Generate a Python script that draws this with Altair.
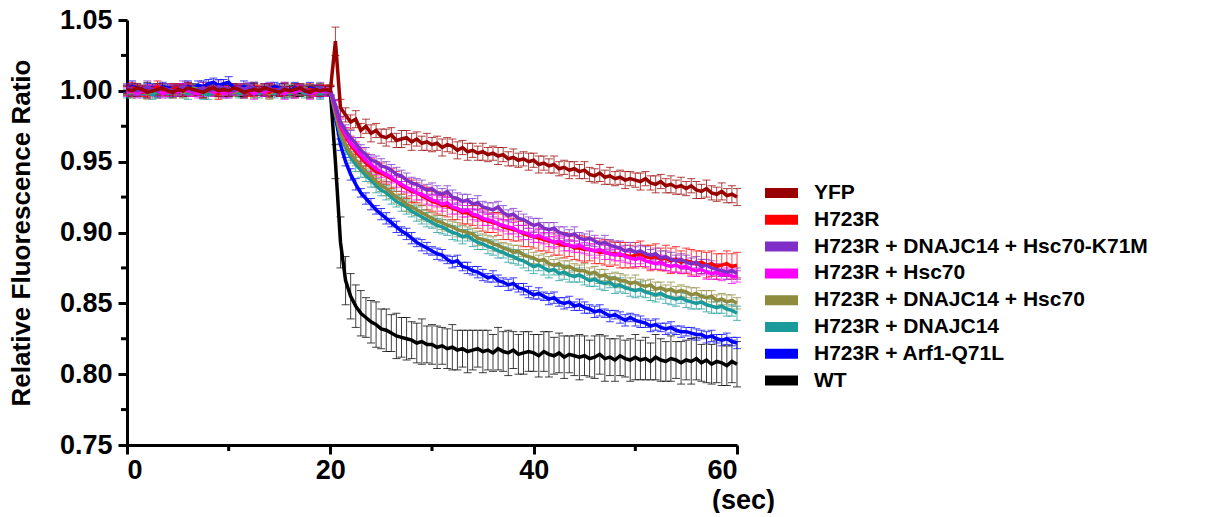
import altair as alt
import pandas as pd

# ---------------- data (values in thousandths of the ratio) ----------------
NAMES = ["YFP", "H723R", "H723R + DNAJC14 + Hsc70-K71M", "H723R + Hsc70",
         "H723R + DNAJC14 + Hsc70", "H723R + DNAJC14", "H723R + Arf1-Q71L", "WT"]
COLORS = ["#990000", "#FF0000", "#7E2FC8", "#FF00FF", "#8E8A3E", "#1A9A9A", "#0000FF", "#000000"]
DRAW_ORDER = ["WT", "H723R + Arf1-Q71L", "H723R + DNAJC14", "H723R + DNAJC14 + Hsc70",
              "H723R", "H723R + Hsc70", "H723R + DNAJC14 + Hsc70-K71M", "YFP"]

TIMES = [i / 2 for i in range(121)]          # sampling every 0.5 s, 0..60 s
X_TICKS = [0, 20, 40, 60]
X_MINOR = [10, 30, 50]
Y_TICKS = [0.75, 0.80, 0.85, 0.90, 0.95, 1.00, 1.05]
Y_MINOR = [0.775, 0.825, 0.875, 0.925, 0.975, 1.025]

PRE = {
    "YFP": [1001,1000,1002,1001,999,1000,1001,1002,1000,999,
            1001,1000,1002,1001,1000,999,1001,1002,1000,1001,
            1000,1002,1001,999,1000,1001,1000,1002,1001,1000,
            999,1001,1000,1001,1002,1000,999,1001,1000,1001],
    "H723R": [1000,1002,1001,999,1000,1001,1003,1000,999,1001,
              1002,1000,1001,999,1000,1002,1001,1000,998,1000,
              1001,1000,1002,1001,999,1000,1001,1000,999,1001,
              1000,1002,1000,999,1001,1000,1001,999,1000,1001],
    "H723R + DNAJC14 + Hsc70-K71M": [1002,1001,1000,1001,1003,1001,1000,1002,1001,1000,
                                     1001,1003,1002,1000,1001,1002,1000,1001,1003,1002,
                                     1001,1000,1002,1001,1003,1002,1000,1001,1002,1000,
                                     1001,1002,1000,1001,1002,1001,999,1001,1002,1000],
    "H723R + Hsc70": [999,1000,998,1000,999,1001,1000,998,999,1000,
                      999,1001,1000,999,998,1000,1001,999,1000,998,
                      999,1000,1001,999,1000,998,1000,999,1001,1000,
                      999,998,1000,999,1001,1000,998,999,1000,999],
    "H723R + DNAJC14 + Hsc70": [1000,999,1001,1000,998,1000,1001,999,1000,1001,
                                1000,999,1000,1002,1001,999,1000,1001,999,1000,
                                1001,999,1000,1001,1000,999,1001,1000,998,1000,
                                1001,1000,999,1001,1000,1002,1000,999,1001,1000],
    "H723R + DNAJC14": [998,999,1000,998,999,997,999,1000,998,999,
                        1000,999,998,1000,999,998,997,999,1000,998,
                        999,1000,998,999,1000,999,998,1000,999,998,
                        1000,999,998,999,1000,998,999,1000,998,999],
    "H723R + Arf1-Q71L": [1001,1003,1002,1000,1001,1002,1001,1003,1002,1001,
                          1002,1001,1003,1002,1004,1003,1005,1006,1004,1005,
                          1006,1002,1001,1003,1002,1001,1000,1002,1001,1003,
                          1002,1001,1000,1002,1001,1000,1002,1001,999,1000],
    "WT": [1000,1001,999,1000,1002,1000,999,1001,1000,1000,
           999,1001,1000,1002,1000,999,1001,1000,1001,999,
           1000,1001,999,1000,1001,1002,1000,999,1000,1001,
           1000,999,1001,1000,999,1001,1000,1000,1001,1000],
}

POST = {
    "YFP": [1000,1035,988,983,978,980,972,975,970,972,
            968,967,969,965,966,967,964,966,963,964,
            962,963,960,962,961,958,960,957,958,956,
            957,955,956,954,955,952,953,951,952,950,
            951,948,949,947,948,945,946,944,945,943,
            944,941,940,942,939,940,938,939,937,938,
            937,936,938,935,934,936,933,934,932,933,
            931,933,930,929,931,928,927,929,926,927,
            925],
    "H723R": [1000,988,975,968,962,957,953,949,946,943,
              942,940,938,936,933,931,929,928,926,924,
              922,921,919,919,917,916,914,914,912,911,
              909,908,907,906,904,903,902,901,899,898,
              897,896,895,894,893,892,891,891,889,889,
              888,888,887,886,886,885,885,884,884,883,
              884,885,883,882,883,881,882,880,881,879,
              880,879,878,879,877,878,876,877,878,876,
              877],
    "H723R + DNAJC14 + Hsc70-K71M": [1000,990,978,972,967,963,958,955,951,950,
                                     947,946,944,941,940,937,935,934,932,930,
                                     931,928,927,929,925,924,922,923,920,921,
                                     918,917,916,918,914,912,913,910,909,907,
                                     905,906,903,902,903,900,899,898,899,896,
                                     895,896,894,892,893,891,890,889,887,888,
                                     886,887,885,884,885,882,883,881,880,881,
                                     879,878,879,876,877,875,874,873,872,873,
                                     871],
    "H723R + Hsc70": [1000,989,976,969,963,959,955,951,948,945,
                      943,941,939,936,934,932,930,928,927,925,
                      923,922,920,921,918,917,915,916,913,912,
                      910,909,908,906,905,904,903,901,900,899,
                      897,898,896,895,893,894,892,891,890,891,
                      889,888,887,888,886,885,884,885,883,882,
                      881,882,880,879,878,879,877,876,877,875,
                      876,874,873,874,872,871,872,870,871,869,
                      869],
    "H723R + DNAJC14 + Hsc70": [1000,985,970,962,956,951,947,943,940,936,
                                933,931,928,925,923,920,918,916,914,912,
                                910,908,907,905,904,902,901,900,899,896,
                                895,894,892,891,889,888,886,887,884,883,
                                882,880,881,878,877,878,875,876,874,873,
                                873,871,872,869,870,867,868,866,866,864,
                                865,863,862,863,860,861,859,860,858,859,
                                858,856,857,855,854,855,852,853,851,852,
                                850],
    "H723R + DNAJC14": [1000,984,968,960,953,948,944,940,937,933,
                        930,928,925,922,920,918,915,913,911,909,
                        907,905,904,902,900,899,897,898,895,893,
                        892,890,889,887,886,884,883,881,880,878,
                        876,877,875,873,874,871,872,870,869,870,
                        868,866,867,865,864,865,862,863,861,860,
                        859,860,858,857,856,857,855,854,853,854,
                        852,851,850,851,849,848,847,848,846,845,
                        843],
    "H723R + Arf1-Q71L": [1000,982,962,950,941,934,928,924,920,916,
                          913,910,907,904,901,899,896,893,891,889,
                          887,885,884,881,879,880,876,875,873,872,
                          870,868,869,866,865,863,864,861,860,858,
                          856,857,855,853,854,851,850,851,848,849,
                          847,846,844,845,843,841,842,840,838,840,
                          838,837,836,834,835,833,832,833,831,830,
                          830,829,828,828,826,827,825,824,825,823,
                          822],
    "WT": [1000,950,893,866,855,848,843,840,837,835,
           832,831,829,827,826,825,824,822,823,821,
           821,819,820,818,819,817,818,816,817,818,
           816,817,815,818,816,815,817,814,815,816,
           815,813,816,814,813,815,812,814,813,812,
           813,811,812,814,811,812,810,813,811,810,
           812,810,811,809,812,810,809,811,810,808,
           810,809,811,808,810,807,809,808,806,809,
           807],
}

# error half-widths (thousandths)
ERR_PRE = [3,4,3,3,4,3,4,3,3,4, 3,4,4,3,3,4,3,3,4,3,
           4,3,3,4,3,4,3,3,4,3, 3,4,3,4,3,3,4,3,4,3]
ERR_POST = {
    "YFP": [3,10,6,5,5,6,5,5,6,5, 5,6,5,5,6,5,6,5,5,6, 5,5,6,5,5,6,5,6,5,5,
            6,5,5,6,5,5,6,5,5,6, 5,6,5,5,6,5,5,6,5,5, 6,5,5,6,5,6,5,5,6,5,
            5,6,5,5,6,5,5,6,5,6, 5,5,6,5,6,5,5,6,5,6, 6],
    "H723R": [4,5,6,6,6,7,6,7,6,7, 7,6,7,7,6,7,8,7,7,8, 7,8,7,8,8,7,8,8,7,8,
              8,8,7,8,9,8,8,7,9,8, 8,9,8,8,9,8,9,8,8,9, 9,8,9,8,9,9,8,9,9,8,
              9,9,8,9,9,8,9,9,9,8, 9,9,9,8,9,9,9,8,9,9, 9],
    "H723R + DNAJC14 + Hsc70-K71M": [3,4,4,4,5,4,4,5,4,4, 5,4,4,5,4,5,4,4,5,4, 4,5,4,4,5,4,5,4,4,5,
                                     4,4,5,4,5,4,4,5,4,4, 5,4,4,5,4,4,5,4,5,4, 4,5,4,4,5,4,4,5,4,5,
                                     4,4,5,4,4,5,4,5,4,4, 5,4,4,5,4,5,4,4,5,4, 4],
    "H723R + Hsc70": [3,4,4,5,4,4,5,4,5,4, 4,5,4,4,5,4,4,5,4,5, 4,4,5,4,5,4,4,5,4,4,
                      5,4,5,4,4,5,4,4,5,4, 4,5,4,5,4,4,5,4,4,5, 4,4,5,4,5,4,4,5,4,4,
                      5,4,4,5,4,5,4,4,5,4, 4,5,4,4,5,4,5,4,4,5, 4],
    "H723R + DNAJC14 + Hsc70": [3,4,4,4,5,4,4,4,5,4, 4,5,4,4,4,5,4,4,5,4, 4,4,5,4,4,5,4,4,4,5,
                                4,4,5,4,4,4,5,4,4,5, 4,4,4,5,4,4,5,4,4,4, 5,4,4,5,4,4,4,5,4,4,
                                5,4,4,4,5,4,4,5,4,4, 4,5,4,4,5,4,4,4,5,4, 4],
    "H723R + DNAJC14": [3,4,5,5,4,5,5,4,5,5, 4,5,5,4,5,5,4,5,5,5, 4,5,5,4,5,5,5,4,5,5,
                        4,5,5,5,4,5,5,4,5,5, 5,4,5,5,4,5,5,5,4,5, 5,4,5,5,5,4,5,5,4,5,
                        5,5,4,5,5,4,5,5,5,4, 5,5,4,5,5,5,4,5,5,4, 5],
    "H723R + Arf1-Q71L": [3,4,4,3,4,4,3,4,4,3, 4,4,3,4,3,4,4,3,4,4, 3,4,4,3,4,4,3,4,3,4,
                          4,3,4,4,3,4,4,3,4,4, 3,4,3,4,4,3,4,4,3,4, 4,3,4,4,3,4,3,4,4,3,
                          4,4,3,4,4,3,4,4,3,4, 3,4,4,3,4,4,3,4,4,3, 4],
    "WT": [4,12,18,17,16,15,16,14,15,16, 14,15,13,16,14,15,13,14,16,13, 14,15,13,14,16,14,13,15,14,13,
           15,14,13,15,14,16,13,14,15,14, 13,15,14,16,13,14,15,13,14,16, 14,13,15,14,16,13,15,14,13,15,
           16,14,15,13,16,15,14,16,13,15, 14,16,15,13,16,14,15,16,14,15, 16],
}

rows = []
for k, name in enumerate(DRAW_ORDER):
    vals = PRE[name] + POST[name]
    errs = ERR_PRE + ERR_POST[name]
    assert len(vals) == len(TIMES), (name, len(vals))
    assert len(errs) == len(TIMES), (name, "err", len(errs))
    for t, v, e in zip(TIMES, vals, errs):
        rows.append({"t": t, "v": v / 1000, "lo": (v - e) / 1000, "hi": (v + e) / 1000,
                     "series": name, "k": k})
df = pd.DataFrame(rows)

FONT = "Liberation Sans"
W, H = 610, 425

AX_X = alt.Axis(values=X_TICKS, format="d", title="(sec)", grid=False,
                labelFont=FONT, labelFontSize=27, labelFontWeight="bold", labelColor="black",
                labelPadding=3, tickSize=9, tickWidth=3, tickColor="black",
                domainColor="black", domainWidth=3,
                titleFont=FONT, titleFontSize=27, titleFontWeight="bold", titleColor="black",
                titleX=616, titleY=63, titleAlign="center", titleBaseline="alphabetic")
AX_Y = alt.Axis(values=Y_TICKS, format=".2f", title="Relative Fluorescence Ratio", grid=False,
                labelFont=FONT, labelFontSize=27, labelFontWeight="bold", labelColor="black",
                labelPadding=6, tickSize=9, tickWidth=3, tickColor="black",
                domainColor="black", domainWidth=3,
                titleFont=FONT, titleFontSize=26, titleFontWeight="bold", titleColor="black",
                titleAngle=270, titleX=-98, titleY=H / 2, titleAlign="center",
                titleBaseline="alphabetic")

XS = alt.Scale(domain=[0, 60], nice=False, zero=False)
YS = alt.Scale(domain=[0.75, 1.05], nice=False, zero=False)

color_legend = alt.Legend(
    orient="none", legendX=638, legendY=162.5, title=None, padding=0,
    symbolType="M-3.3,0L3.3,0", symbolSize=100, symbolStrokeWidth=10, symbolOpacity=1,
    symbolOffset=6,
    labelFont=FONT, labelFontSize=21, labelFontWeight="bold", labelColor="black",
    labelOffset=22, rowPadding=4.8, clipHeight=21, labelLimit=500)

CS = alt.Scale(domain=NAMES, range=COLORS)

base = alt.Chart(df)

errbars = base.mark_errorbar(
    ticks={"size": 8, "thickness": 1, "opacity": 0.75},
    rule={"strokeWidth": 1, "opacity": 0.75},
).encode(
    x=alt.X("t:Q", scale=XS, axis=AX_X),
    y=alt.Y("lo:Q", scale=YS, axis=AX_Y),
    y2="hi:Q",
    color=alt.Color("series:N", scale=CS, legend=None),
)

lines = base.mark_line(strokeWidth=3.5).encode(
    x=alt.X("t:Q", scale=XS, axis=AX_X),
    y=alt.Y("v:Q", scale=YS, axis=AX_Y),
    color=alt.Color("series:N", scale=CS, legend=color_legend),
    detail="series:N",
)

minor_x = alt.Chart(pd.DataFrame({"t": X_MINOR})).mark_rule(strokeWidth=3, color="black").encode(
    x=alt.X("t:Q", scale=XS, axis=AX_X), y=alt.value(H), y2=alt.value(H + 6))
minor_y = alt.Chart(pd.DataFrame({"v": Y_MINOR})).mark_rule(strokeWidth=3, color="black").encode(
    y=alt.Y("v:Q", scale=YS, axis=AX_Y), x=alt.value(-6), x2=alt.value(0))

chart = alt.layer(errbars, lines, minor_x, minor_y).resolve_legend(
    color="independent"
).properties(
    width=W, height=H,
    autosize=alt.AutoSizeParams(type="none"),
    padding={"left": 119, "top": 12, "right": 460, "bottom": 68},
    background="white",
).configure_view(stroke=None)

chart.save("out.html", embed_options={"renderer": "svg", "actions": False})
